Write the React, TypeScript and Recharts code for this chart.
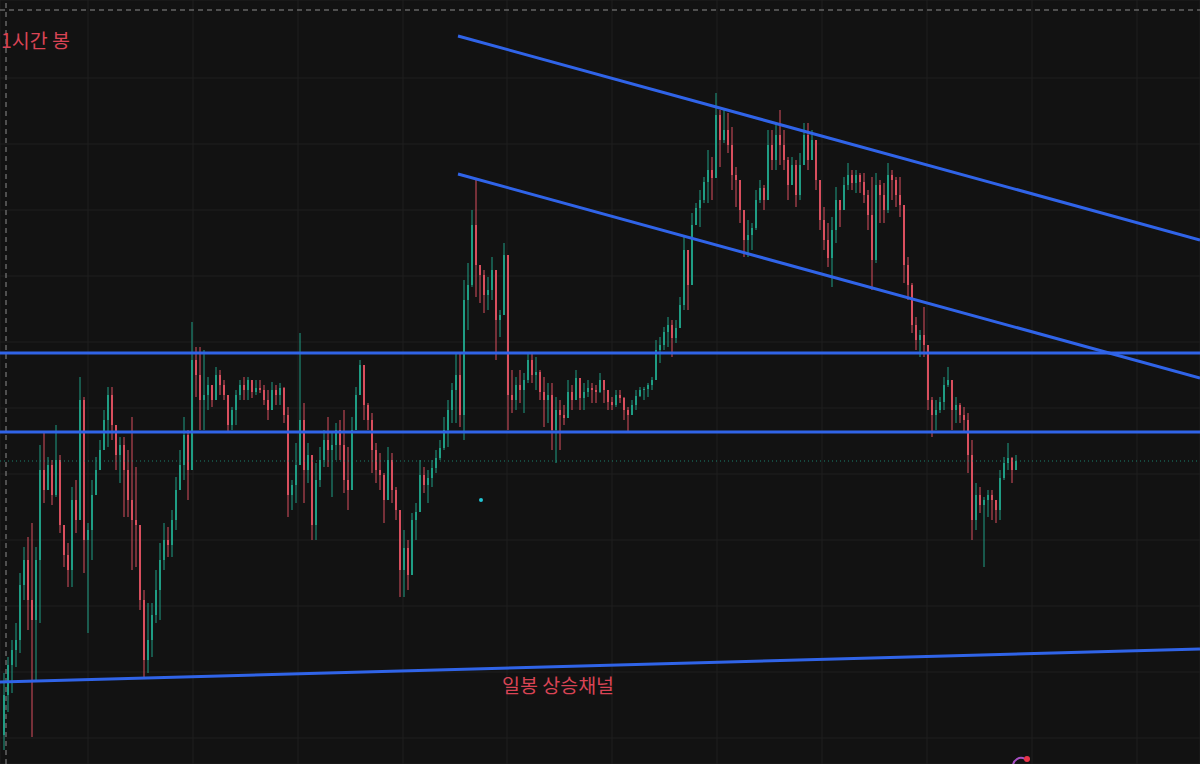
import { ComposedChart, Bar, XAxis, YAxis, CartesianGrid, ReferenceLine, ReferenceDot } from "recharts"

// hourly candles, price units (open = previous close)
const firstOpen = 265

const highs = [
  327, 343, 360, 377, 427, 453, 463, 477, 453, 555,
  567, 543, 540, 575, 545, 470, 457, 513, 520, 623,
  603, 477, 520, 543, 560, 590, 613, 613, 573, 563,
  563, 550, 583, 533, 470, 410, 397, 397, 430, 457,
  477, 473, 490, 523, 550, 583, 570, 678, 653, 653,
  650, 623, 613, 633, 630, 620, 603, 593, 610, 620,
  623, 623, 620, 620, 620, 615, 610, 618, 615, 617,
  613, 593, 520, 557, 667, 597, 557, 540, 537, 553,
  570, 583, 567, 577, 580, 590, 553, 583, 613, 640,
  627, 597, 587, 557, 547, 527, 553, 547, 513, 490,
  470, 460, 487, 497, 540, 533, 530, 540, 550, 560,
  583, 600, 617, 647, 647, 720, 737, 790, 820, 733,
  730, 723, 743, 720, 690, 757, 737, 630, 623, 630,
  627, 647, 647, 643, 630, 623, 617, 617, 603, 600,
  595, 620, 615, 630, 617, 617, 620, 617, 615, 627,
  617, 607, 603, 610, 610, 603, 593, 600, 610, 613,
  613, 617, 623, 660, 663, 673, 683, 680, 680, 703,
  763, 728, 787, 797, 810, 823, 850, 843, 907, 890,
  890, 887, 873, 833, 815, 787, 780, 777, 810, 820,
  815, 870, 870, 877, 890, 870, 843, 843, 840, 847,
  877, 877, 870, 853, 807, 793, 777, 783, 813, 800,
  823, 837, 830, 830, 827, 827, 810, 823, 827, 820,
  817, 837, 830, 823, 823, 790, 743, 717, 683, 670,
  693, 650, 603, 600, 603, 623, 633, 620, 603, 597,
  593, 587, 560, 517, 513, 503, 510, 510, 500, 530,
  543, 557, 543, 545,
]

const lows = [
  250, 288, 307, 333, 347, 400, 370, 263, 320, 377,
  497, 510, 495, 503, 467, 433, 413, 413, 467, 487,
  427, 367, 440, 507, 530, 553, 553, 560, 530, 517,
  483, 483, 430, 433, 390, 323, 327, 343, 377, 380,
  430, 443, 443, 470, 513, 520, 500, 560, 603, 570,
  570, 590, 593, 603, 605, 600, 567, 570, 575, 600,
  600, 600, 602, 605, 607, 595, 580, 590, 595, 595,
  577, 483, 490, 497, 543, 497, 517, 460, 460, 513,
  533, 533, 503, 540, 540, 507, 490, 530, 580, 605,
  580, 570, 527, 517, 510, 477, 500, 497, 480, 403,
  403, 410, 447, 460, 493, 507, 497, 513, 527, 540,
  550, 553, 577, 577, 573, 560, 670, 713, 703, 697,
  687, 690, 700, 640, 663, 690, 570, 587, 590, 597,
  587, 617, 617, 610, 600, 573, 577, 550, 537, 550,
  575, 583, 590, 600, 590, 590, 603, 597, 597, 607,
  597, 590, 590, 593, 597, 580, 567, 587, 590, 603,
  600, 603, 610, 623, 637, 650, 653, 643, 657, 677,
  690, 690, 723, 777, 773, 797, 797, 800, 833, 833,
  857, 847, 810, 793, 777, 743, 743, 750, 770, 797,
  790, 810, 830, 830, 835, 830, 800, 815, 793, 800,
  840, 830, 840, 810, 770, 750, 733, 713, 757, 773,
  790, 810, 810, 807, 807, 797, 770, 710, 737, 777,
  777, 787, 800, 793, 783, 717, 700, 667, 650, 643,
  643, 590, 563, 570, 587, 590, 613, 570, 577, 577,
  567, 527, 460, 470, 487, 433, 483, 480, 477, 480,
  520, 530, 517, 530,
]

const closes = [
  305, 335, 350, 360, 415, 440, 400, 380, 440, 530,
  510, 535, 505, 540, 475, 445, 430, 500, 480, 600,
  460, 470, 505, 530, 550, 580, 605, 575, 545, 555,
  530, 500, 480, 475, 400, 340, 360, 385, 410, 440,
  460, 455, 480, 510, 535, 565, 530, 640, 625, 600,
  605, 615, 600, 625, 615, 605, 575, 590, 605, 615,
  610, 620, 608, 612, 610, 600, 590, 610, 605, 612,
  585, 505, 515, 535, 580, 530, 545, 475, 520, 540,
  560, 550, 555, 570, 555, 520, 510, 570, 605, 635,
  595, 580, 550, 530, 525, 500, 540, 510, 490, 430,
  452, 425, 480, 488, 525, 515, 522, 532, 542, 552,
  570, 590, 610, 625, 585, 700, 715, 775, 735, 725,
  705, 710, 730, 680, 685, 745, 605, 600, 615, 610,
  620, 640, 625, 628, 608, 600, 605, 570, 590, 585,
  582, 608, 600, 622, 602, 608, 612, 610, 608, 620,
  610, 598, 595, 605, 602, 590, 585, 595, 604, 610,
  611, 615, 620, 650, 655, 668, 675, 662, 672, 695,
  750, 715, 775, 792, 800, 818, 830, 822, 885, 860,
  870, 855, 825, 820, 790, 760, 765, 772, 800, 812,
  800, 855, 840, 865, 855, 840, 815, 835, 805, 835,
  865, 840, 860, 820, 780, 760, 742, 770, 800, 790,
  815, 825, 817, 825, 818, 805, 785, 740, 815, 805,
  790, 825, 820, 805, 795, 735, 715, 675, 660, 665,
  655, 600, 585, 590, 598, 615, 620, 590, 595, 585,
  580, 545, 480, 505, 495, 500, 505, 500, 490, 522,
  537, 542, 530, 539,
]

// drawn levels
const horizontalLevels = [647, 568]
const channelLines = [
  { x1: 113.5, y1: 964, x2: 299, y2: 760 },
  { x1: 113.5, y1: 826, x2: 299, y2: 622 },
  { x1: -1, y1: 318, x2: 299, y2: 351 },
]

const timeTicks = [21, 47.25, 73.5, 99.75, 125.75, 152, 178.25, 204.5, 230.75, 257, 283.25]
const priceTicks = [922, 856, 790, 724, 658, 592, 526, 460, 394, 328, 262]

const UP = "#1f9d84"
const DOWN = "#d94f5e"
const LINE = "#3064e8"
const BG = "#121212"

const candles = closes.map((close, i) => {
  const open = i === 0 ? firstOpen : closes[i - 1]
  return { idx: i, open, close, high: highs[i], low: lows[i], range: [lows[i], highs[i]] }
})
const lastClose = closes[closes.length - 1]

function Candle(props: any) {
  const { x, y, width, height, payload } = props
  if (!payload || height == null || isNaN(y)) return null
  const { open, close, high, low } = payload
  const color = close >= open ? UP : DOWN
  const top = Math.min(y, y + height)
  const h = Math.abs(height)
  const k = h / (high - low || 1)
  const cx = x + width / 2
  const bodyTop = top + (high - Math.max(open, close)) * k
  const bodyH = Math.max(1, Math.abs(open - close) * k)
  return (
    <g>
      <line x1={cx} x2={cx} y1={top} y2={top + h} stroke={color} strokeWidth={1} />
      <rect x={cx - 1} y={bodyTop} width={2} height={bodyH} fill={color} />
    </g>
  )
}

const labelStyle = {
  position: "absolute" as const,
  color: "#d94455",
  fontFamily: "'Noto Sans CJK KR', sans-serif",
  fontSize: 19.5,
  lineHeight: 1,
  whiteSpace: "nowrap" as const,
}

export default function App() {
  return (
    <div style={{ position: "absolute", top: 0, left: 0, width: 1200, height: 764, background: BG, overflow: "hidden" }}>
      <ComposedChart width={1200} height={764} data={candles} margin={{ top: 0, right: 0, bottom: 0, left: 0 }}>
        <CartesianGrid stroke="#1e1e1e" strokeWidth={1} />
        <XAxis dataKey="idx" type="number" domain={[-1, 299]} ticks={timeTicks} hide allowDataOverflow />
        <YAxis type="number" domain={[236, 1000]} ticks={priceTicks} hide allowDataOverflow />
        <ReferenceLine y={990} stroke="#8c8c8c" strokeDasharray="5 4" />
        <ReferenceLine x={0.5} stroke="#8c8c8c" strokeDasharray="5 4" />
        <ReferenceLine y={lastClose} stroke={UP} strokeDasharray="1 3" strokeOpacity={0.8} />
        <Bar dataKey="range" barSize={2} shape={<Candle />} isAnimationActive={false} />
        {horizontalLevels.map((v) => (
          <ReferenceLine key={v} y={v} stroke={LINE} strokeWidth={3} />
        ))}
        {channelLines.map((l, i) => (
          <ReferenceLine
            key={i}
            segment={[{ x: l.x1, y: l.y1 }, { x: l.x2, y: l.y2 }]}
            stroke={LINE}
            strokeWidth={3}
            ifOverflow="visible"
          />
        ))}
        <ReferenceDot x={119.25} y={500} r={2} fill="#22c4d4" stroke="none" />
      </ComposedChart>
      <div style={{ ...labelStyle, left: 1, top: 30 }}>1시간 봉</div>
      <div style={{ ...labelStyle, left: 502, top: 675 }}>일봉 상승채널</div>
      <svg style={{ position: "absolute", left: 1005, top: 750 }} width={30} height={14}>
        <path d="M 8 16 A 8 8 0 0 1 20 9" stroke="#a64fc2" strokeWidth={2} fill="none" />
        <circle cx={22} cy={9} r={3} fill="#e8344a" />
      </svg>
    </div>
  )
}
